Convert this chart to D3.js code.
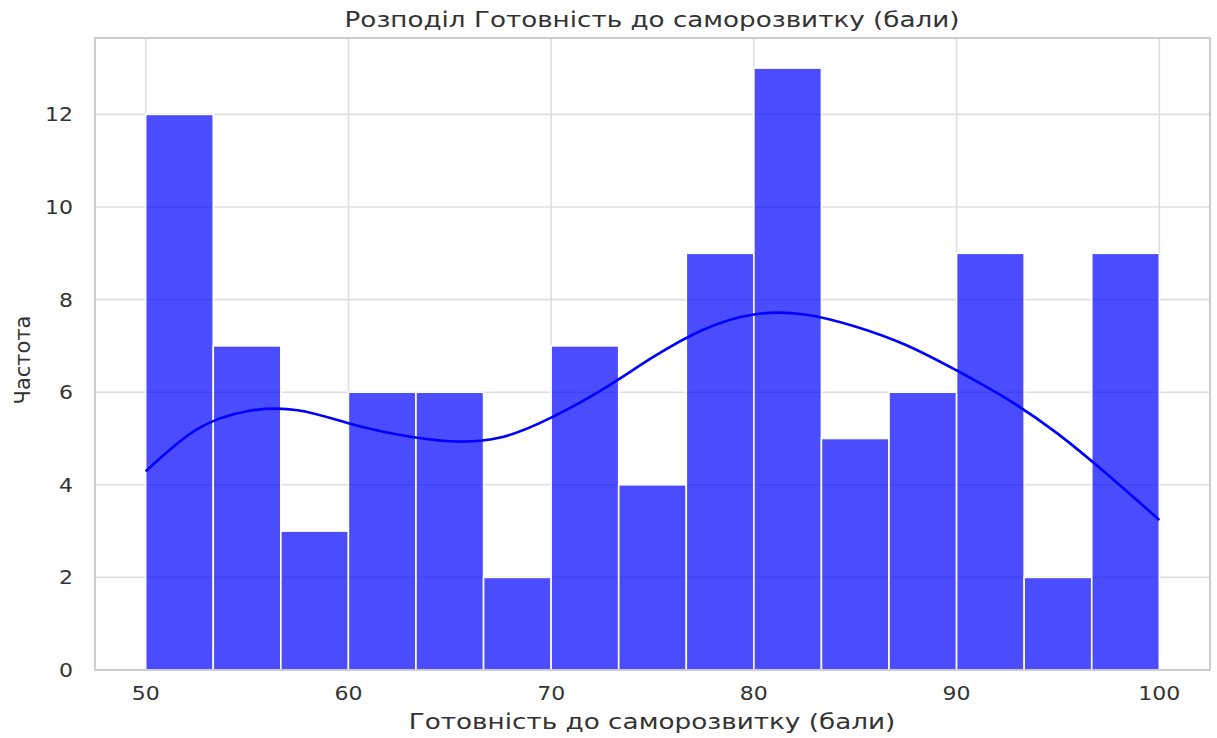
<!DOCTYPE html>
<html>
<head>
<meta charset="utf-8">
<script src="https://cdn.jsdelivr.net/npm/d3@7"></script>
<style>
  body { margin: 0; background: #fff; }
  text { font-family: "DejaVu Sans", sans-serif; fill: #333; }
</style>
</head>
<body>
<div id="chart"></div>
<script>
// histogram bins (50..100, 15 bins) and counts
var binEdges = [50, 53.333, 56.667, 60, 63.333, 66.667, 70, 73.333, 76.667, 80, 83.333, 86.667, 90, 93.333, 96.667, 100];
var counts = [12, 7, 3, 6, 6, 2, 7, 4, 9, 13, 5, 6, 9, 2, 9];

// kde curve
var kdeX = [50, 52.5, 55, 57.5, 60, 62.5, 65, 67.5, 70, 72.5, 75, 77.5, 80, 82.5, 85, 87.5, 90, 92.5, 95, 97.5, 100];
var kdeY = [4.29, 5.19, 5.59, 5.61, 5.33, 5.08, 4.94, 5.02, 5.45, 6.05, 6.75, 7.35, 7.68, 7.68, 7.42, 7.02, 6.47, 5.85, 5.1, 4.2, 3.24];

var xTicks = [50, 60, 70, 80, 90, 100];
var yTicks = [0, 2, 4, 6, 8, 10, 12];

var width = 1217, height = 738;
var margin = {top: 38, right: 7, bottom: 68, left: 95};

var svg = d3.select("#chart")
    .append("svg")
    .attr("width", width)
    .attr("height", height);

var x = d3.scaleLinear().domain([47.5, 102.5]).range([margin.left, width - margin.right]);
var y = d3.scaleLinear().domain([0, 13.65]).range([height - margin.bottom, margin.top]);

// grid
svg.append("g").selectAll("line").data(xTicks).enter().append("line")
    .attr("x1", d => x(d)).attr("x2", d => x(d))
    .attr("y1", y.range()[0]).attr("y2", y.range()[1])
    .attr("stroke", "#dedede").attr("stroke-width", 1.6);
svg.append("g").selectAll("line").data(yTicks).enter().append("line")
    .attr("x1", x.range()[0]).attr("x2", x.range()[1])
    .attr("y1", d => y(d)).attr("y2", d => y(d))
    .attr("stroke", "#dedede").attr("stroke-width", 1.6);

// bars
var bins = counts.map(function(c, i){ return {x0: binEdges[i], x1: binEdges[i+1], n: c}; });
svg.append("g").selectAll("rect").data(bins).enter().append("rect")
    .attr("x", d => x(d.x0))
    .attr("width", d => x(d.x1) - x(d.x0))
    .attr("y", d => y(d.n))
    .attr("height", d => y(0) - y(d.n))
    .attr("fill", "blue").attr("fill-opacity", 0.7)
    .attr("stroke", "#fff").attr("stroke-width", 1.6);

// kde line
var line = d3.line().x(d => x(d[0])).y(d => y(d[1])).curve(d3.curveNatural);
svg.append("path")
    .datum(kdeX.map((v, i) => [v, kdeY[i]]))
    .attr("d", line)
    .attr("fill", "none").attr("stroke", "blue").attr("stroke-width", 2.6);

// frame
svg.append("rect")
    .attr("x", x.range()[0]).attr("y", y.range()[1])
    .attr("width", x.range()[1] - x.range()[0])
    .attr("height", y.range()[0] - y.range()[1])
    .attr("fill", "none").attr("stroke", "#cccccc").attr("stroke-width", 2);

// tick labels
var sx = 1.1;
svg.append("g").selectAll("text").data(xTicks).enter().append("text")
    .attr("transform", d => "translate(" + x(d) + "," + 700 + ") scale(" + sx + ",1)")
    .attr("text-anchor", "middle")
    .style("font-size", "20px")
    .text(d => d);
svg.append("g").selectAll("text").data(yTicks).enter().append("text")
    .attr("transform", d => "translate(" + 73 + "," + (y(d) + 7) + ") scale(" + sx + ",1)")
    .attr("text-anchor", "end")
    .style("font-size", "20px")
    .text(d => d);

// title and labels, stretched to the widths seen in the picture
function fitText(str, cx, cy, size, targetW) {
    var t = svg.append("text")
        .attr("text-anchor", "middle")
        .style("font-size", size + "px")
        .text(str);
    var w = t.node().getComputedTextLength();
    t.attr("transform", "translate(" + cx + "," + cy + ") scale(" + (targetW / w) + ",1)");
    return t;
}
fitText("Розподіл Готовність до саморозвитку (бали)", 652, 27, 21, 615);
fitText("Готовність до саморозвитку (бали)", 652, 729, 21, 487);

svg.append("text")
    .attr("transform", "translate(" + 30 + "," + 360 + ") rotate(-90)")
    .attr("text-anchor", "middle")
    .style("font-size", "21px")
    .text("Частота");
</script>
</body>
</html>
